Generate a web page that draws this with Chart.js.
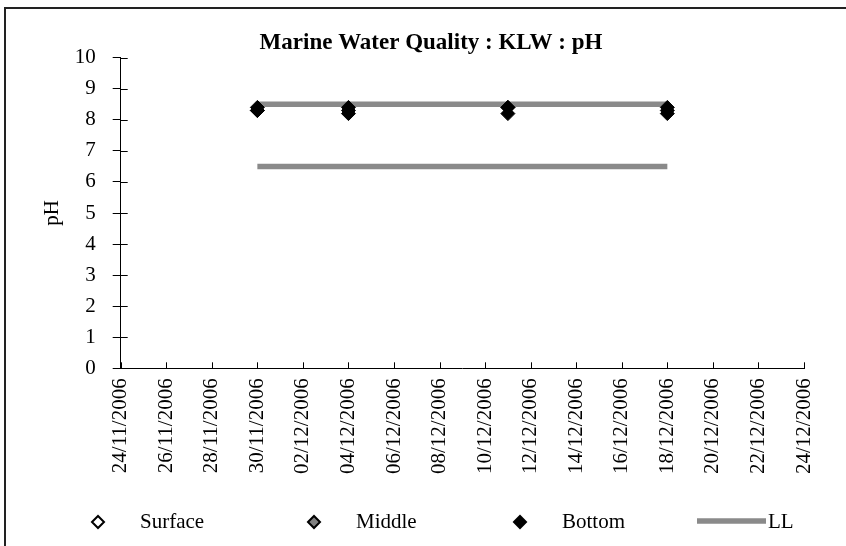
<!DOCTYPE html>
<html>
<head>
<meta charset="utf-8">
<script src="https://cdn.jsdelivr.net/npm/chart.js@4.4.1/dist/chart.umd.min.js"></script>
<style>
  body { margin: 0; background: #fff; }
  #wrap { position: relative; width: 846px; height: 546px; }
  #frame { position: absolute; left: 4px; top: 7px; right: 0; bottom: 0;
           border-left: 2px solid #222; border-top: 2px solid #222; pointer-events: none; }
</style>
</head>
<body>
<div id="wrap">
  <canvas id="ph-chart" width="846" height="546"></canvas>
  <div id="frame"></div>
</div>
<script>
// sampling dates and pH readings
var sampleDates = ['30/11/2006', '04/12/2006', '11/12/2006', '18/12/2006'];
var surfacePH = [8.4, 8.4, 8.4, 8.4];
var middlePH  = [8.3, 8.3, 8.4, 8.3];
var bottomPH  = [8.3, 8.2, 8.2, 8.2];

// limit lines
var limitDates = ['30/11/2006', '18/12/2006'];
var upperLimit = [8.5, 8.5];
var lowerLimit = [6.5, 6.5];

// axis range
var axisStart = '24/11/2006';
var axisEnd = '24/12/2006';
var dayStep = 2;

var legendNames = ['Surface', 'Middle', 'Bottom', 'LL'];
var legendFills = ['#ffffff', '#808080', '#000000'];

var DAY = 86400000;
function toDay(s) {   // dd/mm/yyyy -> day number
    var p = s.split('/');
    return Date.UTC(+p[2], +p[1] - 1, +p[0]) / DAY;
}
function fmtDay(v) {
    var d = new Date(v * DAY);
    var dd = ('0' + d.getUTCDate()).slice(-2);
    var mm = ('0' + (d.getUTCMonth() + 1)).slice(-2);
    return dd + '/' + mm + '/' + d.getUTCFullYear();
}
function pts(dates, vals) {
    var out = [];
    for (var i = 0; i < dates.length; i++) out.push({x: toDay(dates[i]), y: vals[i]});
    return out;
}

var serif = "'Liberation Serif', 'Times New Roman', serif";
var limitColor = '#8a8a8a';

function markerSet(label, vals, ord) {
    return {
        label: label,
        data: pts(sampleDates, vals),
        showLine: false,
        pointStyle: 'rectRot',
        pointRadius: 7,
        pointBackgroundColor: '#000',
        pointBorderColor: '#000',
        pointBorderWidth: 1,
        order: ord
    };
}
function limitSet(label, vals) {
    return {
        label: label,
        data: pts(limitDates, vals),
        borderColor: limitColor,
        borderWidth: 5.5,
        pointRadius: 0,
        order: 5
    };
}

// tick marks: y crosses the axis, x points up into the plot
var tickMarks = {
    id: 'tickMarks',
    afterDraw: function(chart) {
        var ctx = chart.ctx, a = chart.chartArea;
        var xs = chart.scales.x, ys = chart.scales.y;
        ctx.save();
        ctx.strokeStyle = '#000';
        ctx.lineWidth = 1;
        ctx.beginPath();
        ys.ticks.forEach(function(t) {
            var y = Math.round(ys.getPixelForValue(t.value)) + 0.5;
            ctx.moveTo(a.left, y); ctx.lineTo(a.left + 7, y);
        });
        xs.ticks.forEach(function(t) {
            var x = Math.round(xs.getPixelForValue(t.value)) + 0.5;
            ctx.moveTo(x, a.bottom); ctx.lineTo(x, a.bottom - 6);
        });
        ctx.stroke();
        ctx.restore();
    }
};

// legend row along the bottom, like the spreadsheet one
var bottomLegend = {
    id: 'bottomLegend',
    afterDraw: function(chart) {
        var ctx = chart.ctx;
        var y = 522;
        var markX = [98, 314, 520];
        ctx.save();
        ctx.font = '21px ' + serif;
        ctx.textBaseline = 'middle';
        ctx.fillStyle = '#000';
        for (var i = 0; i < 3; i++) {
            var cx = markX[i], r = 6;
            ctx.beginPath();
            ctx.moveTo(cx - r, y); ctx.lineTo(cx, y - r);
            ctx.lineTo(cx + r, y); ctx.lineTo(cx, y + r);
            ctx.closePath();
            ctx.fillStyle = legendFills[i];
            ctx.fill();
            ctx.lineWidth = 2;
            ctx.strokeStyle = '#000';
            ctx.stroke();
            ctx.fillStyle = '#000';
            ctx.fillText(legendNames[i], cx + 42, y);
        }
        ctx.strokeStyle = limitColor;
        ctx.lineWidth = 5.5;
        ctx.beginPath();
        ctx.moveTo(697, y - 1); ctx.lineTo(766, y - 1);
        ctx.stroke();
        ctx.fillText(legendNames[3], 768, y);
        ctx.restore();
    }
};

var ctx = document.getElementById('ph-chart').getContext('2d');
var phChart = new Chart(ctx, {
    type: 'line',
    data: {
        datasets: [
            markerSet('Surface', surfacePH, 3),
            markerSet('Middle', middlePH, 2),
            markerSet('Bottom', bottomPH, 1),
            limitSet('UL', upperLimit),
            limitSet('LL', lowerLimit)
        ]
    },
    options: {
        responsive: false,
        animation: false,
        devicePixelRatio: 1,
        layout: { padding: { left: 16, right: 0, top: 0, bottom: 67.7 } },
        plugins: {
            legend: { display: false },
            tooltip: { enabled: false },
            title: {
                display: true,
                text: 'Marine Water Quality : KLW : pH',
                color: '#000',
                font: { family: serif, size: 23, weight: 'bold' },
                padding: { top: 29.7, bottom: 0.4 }
            }
        },
        scales: {
            x: {
                type: 'linear',
                min: toDay(axisStart),
                max: toDay(axisEnd),
                grid: { drawOnChartArea: false, drawTicks: false },
                border: { color: '#000', width: 1 },
                ticks: {
                    stepSize: dayStep,
                    autoSkip: false,
                    minRotation: 90,
                    maxRotation: 90,
                    padding: 10,
                    color: '#000',
                    font: { family: serif, size: 21 },
                    callback: function(v) { return fmtDay(v); }
                },
                afterFit: function(s) { s.height = 110; }
            },
            y: {
                min: 0,
                max: 10,
                grid: { drawOnChartArea: false, tickLength: 8, color: '#000' },
                border: { color: '#000', width: 1 },
                ticks: {
                    stepSize: 1,
                    padding: 17,
                    color: '#000',
                    font: { family: serif, size: 21 }
                },
                title: {
                    display: true,
                    text: 'pH',
                    color: '#000',
                    font: { family: serif, size: 21 },
                    padding: { top: 24, bottom: 0 }
                },
                afterFit: function(s) { s.width = 104.7; }
            },
            yRight: {
                position: 'right',
                display: true,
                grid: { display: false },
                border: { display: false },
                ticks: { display: false },
                afterFit: function(s) { s.width = 42; }
            }
        }
    },
    plugins: [tickMarks, bottomLegend]
});
</script>
</body>
</html>
